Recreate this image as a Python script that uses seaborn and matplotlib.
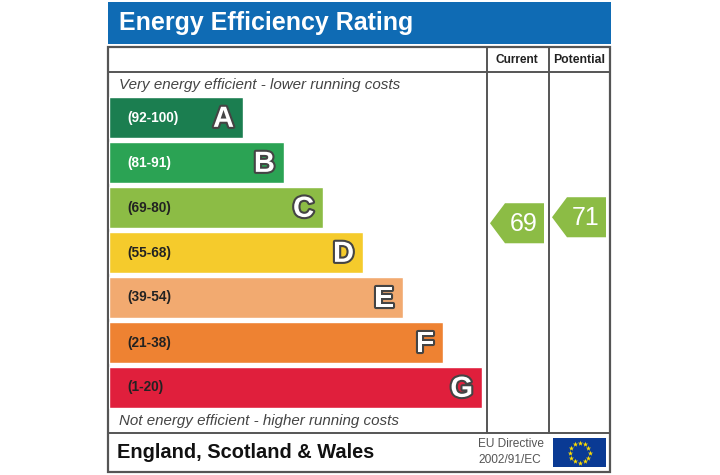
import numpy as np
import pandas as pd
import matplotlib
matplotlib.use("Agg")
import matplotlib.pyplot as plt
import matplotlib.patheffects as pe
from matplotlib.patches import Rectangle, Polygon
import seaborn as sns

# band data
bands = ["A", "B", "C", "D", "E", "F", "G"]
ranges = ["(92-100)", "(81-91)", "(69-80)", "(55-68)", "(39-54)", "(21-38)", "(1-20)"]
range_lo = [92, 81, 69, 55, 39, 21, 1]
range_hi = [100, 91, 80, 68, 54, 38, 20]
bar_len = [134, 175, 214, 254, 294, 334, 373]
band_colors = ["#1b7e50", "#2ba354", "#8cbc45", "#f5cb2c", "#f2aa70", "#ee8232", "#e01f3c"]
label_colors = ["white", "white", "#222222", "#222222", "#222222", "#222222", "#222222"]

current = 69
potential = 71

sns.set_theme(style="white")
plt.rcParams["font.family"] = ["Liberation Sans", "DejaVu Sans"]

fig = plt.figure(figsize=(7.2, 4.75), dpi=100)

# background axes in pixel coords for frame and text
bg = fig.add_axes([0, 0, 1, 1])
bg.set_xlim(0, 720)
bg.set_ylim(475, 0)
bg.axis("off")

bg.add_patch(Rectangle((108, 2), 503, 42, color="#0f6bb4", lw=0))
bg.text(119, 23, "Energy Efficiency Rating", color="white", fontsize=18,
        fontweight="bold", va="center", ha="left")

frame = "#555555"
bg.add_patch(Rectangle((108, 47), 502, 425, fill=False, ec=frame, lw=1.6))
bg.plot([108, 610], [72, 72], color=frame, lw=1.4)
bg.plot([108, 610], [433, 433], color=frame, lw=1.4)
bg.plot([487, 487], [47, 433], color=frame, lw=1.4)
bg.plot([549, 549], [47, 433], color=frame, lw=1.4)

bg.text(517, 60, "Current", fontsize=8.6, fontweight="bold", ha="center", va="center", color="#222")
bg.text(579, 60, "Potential", fontsize=8.8, fontweight="bold", ha="center", va="center", color="#222")

bg.text(119, 85, "Very energy efficient - lower running costs", fontsize=10.9, style="italic",
        color="#444444", ha="left", va="center")
bg.text(119, 421, "Not energy efficient - higher running costs", fontsize=10.9, style="italic",
        color="#444444", ha="left", va="center")

bg.text(117, 453, "England, Scotland & Wales", fontsize=14.4, fontweight="bold",
        color="#111111", ha="left", va="center")
bg.text(478, 444, "EU Directive", fontsize=8.6, color="#555555", ha="left", va="center")
bg.text(478, 460, "2002/91/EC", fontsize=8.6, color="#555555", ha="left", va="center")

# EU flag
bg.add_patch(Rectangle((553, 438), 53, 29, color="#0a3a94", lw=0))
ang = np.linspace(0, 2 * np.pi, 13)[:-1]
bg.scatter(579.5 + 10 * np.cos(ang), 452.5 + 10 * np.sin(ang), marker="*", s=16,
           color="#ffdd00", linewidths=0, zorder=3)

# bars axes, x in pixels from left edge of box
ax = fig.add_axes([109 / 720, (475 - 410) / 475, 500 / 720, 315 / 475])
ax.patch.set_alpha(0)
df = pd.DataFrame({"band": bands, "length": bar_len})
sns.barplot(data=df, x="length", y="band", hue="band", palette=band_colors,
            orient="h", width=0.89, saturation=1, legend=False, ax=ax)
ax.set_xlim(0, 500)
ax.set_ylim(6.5, -0.5)
ax.axis("off")

for i, b in enumerate(bands):
    ax.text(18, i, ranges[i], fontsize=9.8, fontweight="bold", color=label_colors[i],
            ha="left", va="center")
    ax.text(bar_len[i] - 9, i + 0.03, b, fontsize=21, fontweight="bold", color="white",
            ha="right", va="center",
            path_effects=[pe.withStroke(linewidth=3, foreground="#444444")])


def rating_y(val):
    for i in range(len(bands)):
        if range_lo[i] <= val <= range_hi[i]:
            return i + 0.35 - (val - range_lo[i]) * 0.8 / (range_hi[i] - range_lo[i] + 1), i
    return 6, 6


def draw_arrow(val, x0, x1):
    y, i = rating_y(val)
    h = 0.445
    pts = [(x0, y), (x0 + 15, y - h), (x1, y - h), (x1, y + h), (x0 + 15, y + h)]
    ax.add_patch(Polygon(pts, closed=True, color=band_colors[i], lw=0))
    ax.text((x0 + 15 + x1) / 2 - 1, y + 0.02, str(val), fontsize=18, color="white",
            ha="center", va="center")


draw_arrow(current, 381, 435)
draw_arrow(potential, 443, 497)

fig.savefig("out.png", dpi=100)
